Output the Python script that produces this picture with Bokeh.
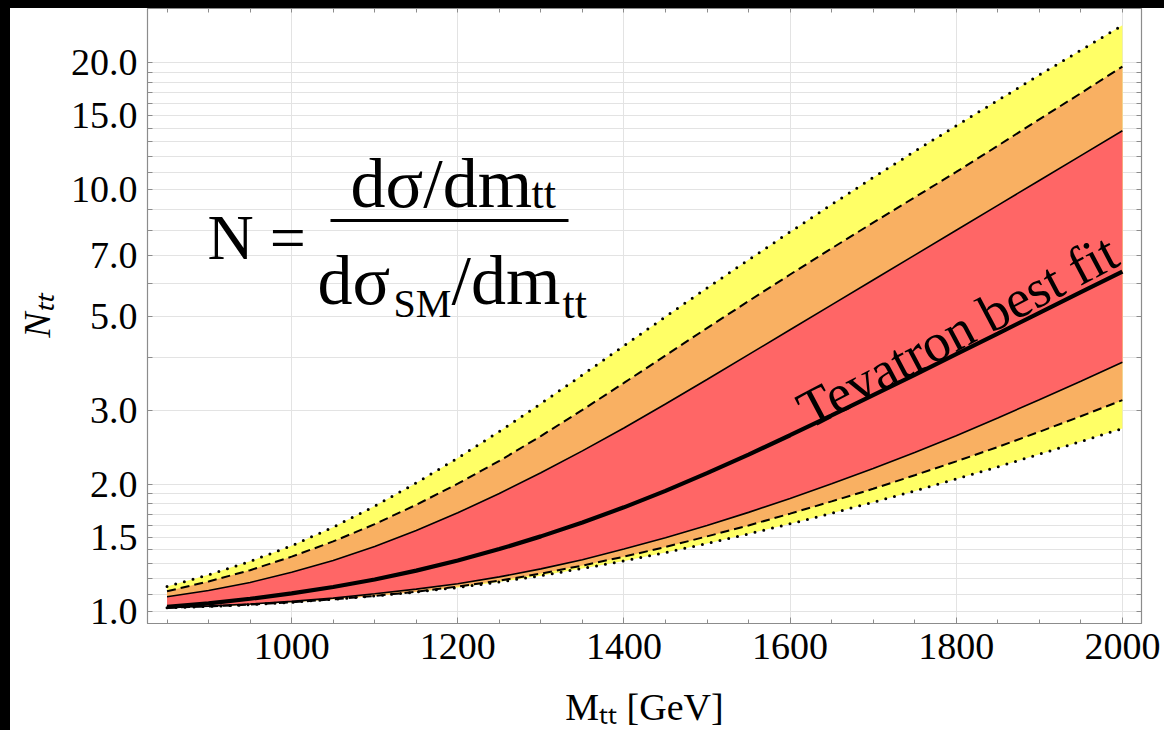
import math
from bokeh.plotting import figure
from bokeh.models import (Range1d, FixedTicker, LinearAxis, LogAxis, Label,
                          BoxAnnotation)
from bokeh.embed import file_html
from bokeh.resources import INLINE

# ---------------- data ----------------
mass = [850, 900, 950, 1000, 1050, 1100, 1150, 1200, 1250, 1300, 1350, 1400,
        1450, 1500, 1550, 1600, 1650, 1700, 1750, 1800, 1850, 1900, 1950, 2000]

# outer (dotted) band
upper_dotted = [1.146, 1.222, 1.315, 1.432, 1.585, 1.778, 2.018, 2.312, 2.673, 3.112, 3.639, 4.266,
                5.000, 5.848, 6.823, 7.943, 9.226, 10.69, 12.33, 14.19, 16.29, 18.71, 21.43, 24.55]
lower_dotted = [1.021, 1.028, 1.038, 1.052, 1.069, 1.089, 1.112, 1.140, 1.175, 1.216, 1.265, 1.318,
                1.380, 1.449, 1.528, 1.614, 1.710, 1.816, 1.932, 2.061, 2.203, 2.360, 2.529, 2.716]
# middle (dashed) band
upper_dashed = [1.117, 1.178, 1.253, 1.349, 1.466, 1.611, 1.791, 2.009, 2.275, 2.606, 3.006, 3.483,
                4.046, 4.699, 5.445, 6.295, 7.261, 8.356, 9.594, 11.02, 12.71, 14.69, 16.94, 19.59]
lower_dashed = [1.021, 1.028, 1.038, 1.052, 1.069, 1.089, 1.114, 1.146, 1.183, 1.230, 1.285, 1.349,
                1.422, 1.507, 1.600, 1.706, 1.824, 1.954, 2.104, 2.270, 2.455, 2.667, 2.904, 3.170]
# inner (solid) band
upper_solid = [1.084, 1.122, 1.172, 1.239, 1.321, 1.426, 1.556, 1.714, 1.905, 2.133, 2.404, 2.723,
               3.105, 3.548, 4.064, 4.656, 5.333, 6.109, 6.998, 8.017, 9.183, 10.52, 12.05, 13.80]
lower_solid = [1.021, 1.030, 1.042, 1.057, 1.076, 1.102, 1.130, 1.164, 1.208, 1.262, 1.327, 1.406,
               1.496, 1.600, 1.718, 1.854, 2.009, 2.183, 2.382, 2.612, 2.877, 3.177, 3.516, 3.899]
# Tevatron best fit
best_fit = [1.026, 1.045, 1.072, 1.104, 1.143, 1.191, 1.250, 1.321, 1.406, 1.507, 1.626, 1.766,
            1.932, 2.128, 2.355, 2.618, 2.917, 3.258, 3.639, 4.074, 4.560, 5.105, 5.715, 6.397]

x_major_ticks = [1000, 1200, 1400, 1600, 1800, 2000]
x_minor_ticks = list(range(850, 2001, 50))
y_grid_values = [1.0, 1.1, 1.2, 1.3, 1.4, 1.5, 1.6, 1.7, 1.8, 1.9, 2.0,
                 3.0, 4.0, 5.0, 6.0, 7.0, 8.0, 9.0, 10.0, 11.0, 12.0, 13.0,
                 14.0, 15.0, 16.0, 17.0, 18.0, 19.0, 20.0]
y_tick_labels = {1.0: "1.0", 1.5: "1.5", 2.0: "2.0", 3.0: "3.0", 5.0: "5.0",
                 7.0: "7.0", 10.0: "10.0", 15.0: "15.0", 20.0: "20.0"}
x_title = "M\u209c\u209c [GeV]"
y_title = "N\u209c\u209c"

FONT = "Liberation Serif"
AX = "#8c8c8c"

# ---------------- figure ----------------
PX0, PY0 = 10, 8            # page offset of the canvas (black strips)
X0, X1 = 826.5, 2023.0
Y0, Y1 = 0.9366, 26.9
W, H = 1154, 722
ML, MR, MT, MB = 137, 23, 0, 107

p = figure(width=W, height=H, title=None,
           x_range=Range1d(X0, X1), y_range=Range1d(Y0, Y1),
           y_axis_type="log", output_backend="svg", toolbar_location=None,
           min_border_left=ML, min_border_right=MR,
           min_border_top=MT, min_border_bottom=MB)
p.background_fill_color = "white"
p.border_fill_color = "white"
p.outline_line_color = AX
p.outline_line_width = 1.2

FW, FH = W - ML - MR, H - MT - MB
def dx(px):  # page x -> data x
    cx = px - PX0 - ML
    return X0 + cx / FW * (X1 - X0)
def dy(py):  # page y -> data y (log scale)
    cy = py - PY0 - MT
    l0, l1 = math.log10(Y0), math.log10(Y1)
    return 10 ** (l1 - cy / FH * (l1 - l0))

# x axis
xa = p.xaxis[0]
xa.ticker = FixedTicker(ticks=x_major_ticks, minor_ticks=x_minor_ticks)
xa.major_label_text_font = FONT
xa.major_label_text_font_size = "38px"
xa.major_label_text_color = "black"
xa.major_label_standoff = 10
xa.axis_line_color = AX
xa.major_tick_line_color = AX
xa.minor_tick_line_color = AX
xa.major_tick_in, xa.major_tick_out = 6, 0
xa.minor_tick_in, xa.minor_tick_out = 4, 0
xa.axis_label = x_title
xa.axis_label_text_font = FONT
xa.axis_label_text_font_size = "38px"
xa.axis_label_text_font_style = "normal"
xa.axis_label_text_color = "black"
xa.axis_label_standoff = 24

# y axis
ya = p.yaxis[0]
ya.ticker = FixedTicker(ticks=y_grid_values)
ya.major_label_overrides = {v: y_tick_labels.get(v, "") for v in y_grid_values}
ya.major_label_text_font = FONT
ya.major_label_text_font_size = "38px"
ya.major_label_text_color = "black"
ya.major_label_standoff = 10
ya.axis_line_color = AX
ya.major_tick_line_color = AX
ya.major_tick_in, ya.major_tick_out = 5, 0
ya.minor_tick_line_color = None
ya.axis_label = y_title
ya.axis_label_text_font = FONT
ya.axis_label_text_font_size = "38px"
ya.axis_label_text_font_style = "italic"
ya.axis_label_text_color = "black"
ya.axis_label_standoff = 10

# top / right frame ticks
top = LinearAxis(ticker=FixedTicker(ticks=[], minor_ticks=x_minor_ticks),
                 major_label_text_font_size="0px", major_label_standoff=0,
                 axis_line_color=AX, minor_tick_line_color=AX,
                 minor_tick_in=4, minor_tick_out=0, major_tick_out=0)
p.add_layout(top, "above")
right = LogAxis(ticker=FixedTicker(ticks=y_grid_values),
                major_label_overrides={v: "" for v in y_grid_values},
                major_label_text_font_size="0px", major_label_standoff=0,
                axis_line_color=AX, major_tick_line_color=AX,
                major_tick_in=5, major_tick_out=0, minor_tick_line_color=None)
p.add_layout(right, "right")

p.xgrid.grid_line_color = "#e3e3e3"
p.ygrid.grid_line_color = "#e3e3e3"

# ---------------- bands ----------------
p.varea(x=mass, y1=lower_dotted, y2=upper_dotted, fill_color="#ffff66")
p.varea(x=mass, y1=lower_dashed, y2=upper_dashed, fill_color="#f9b062")
p.varea(x=mass, y1=lower_solid, y2=upper_solid, fill_color="#ff6666")

for ys in (upper_dotted, lower_dotted):
    p.line(mass, ys, line_color="black", line_width=3, line_dash="0 9",
           line_cap="round")
for ys in (upper_dashed, lower_dashed):
    p.line(mass, ys, line_color="black", line_width=2, line_dash="9 5")
for ys in (upper_solid, lower_solid):
    p.line(mass, ys, line_color="black", line_width=1.6)
p.line(mass, best_fit, line_color="black", line_width=4.2)

# ---------------- texts inside the frame ----------------
def lab(px, py, text, size, style="normal", angle=0.0):
    p.add_layout(Label(x=dx(px), y=dy(py), text=text, text_font=FONT,
                       text_font_size=f"{size}px", text_font_style=style,
                       text_color="black", text_baseline="alphabetic",
                       text_align="left", angle=angle))

lab(207, 237, "N =", 64)
lab(350, 183, "dσ/dm", 70)
lab(531, 193, "tt", 44)
p.add_layout(BoxAnnotation(left=dx(330), right=dx(568), top=dy(218.5),
                           bottom=dy(221.5), fill_color="black",
                           fill_alpha=1.0, line_alpha=0))
lab(317, 280, "dσ", 70)
lab(393, 303, "SM", 40)
lab(451, 280, "/dm", 70)
lab(562, 303, "tt", 44)

lab(801, 413, "Tevatron best fit", 54, angle=0.487)

html = file_html(p, INLINE)
css = ("<style>html,body{margin:0 !important;padding:0 !important;background:#fff !important;}"
       "body{border-top:8px solid #000 !important;border-left:10px solid #000 !important;"
       "box-sizing:border-box !important;}</style>")
html = html.replace("</head>", css + "</head>", 1)
open("out.html", "w").write(html)
